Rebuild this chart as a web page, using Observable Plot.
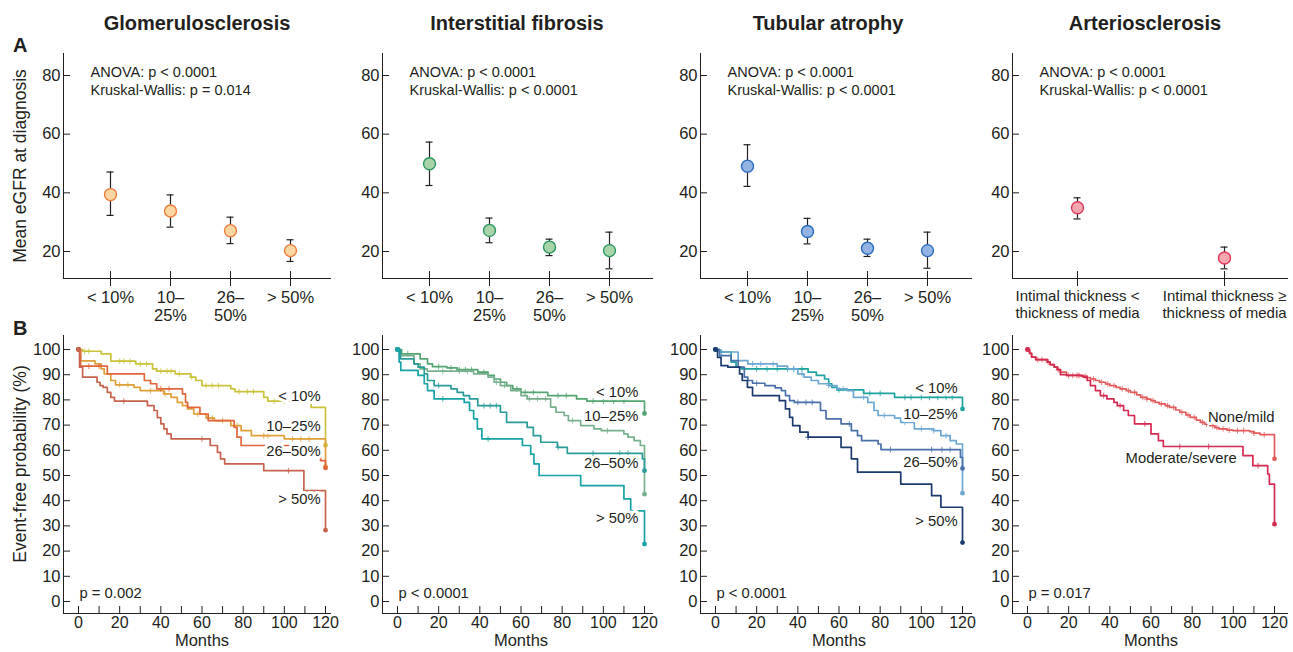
<!DOCTYPE html>
<html><head><meta charset="utf-8">
<script src="https://cdn.jsdelivr.net/npm/d3@7"></script>
<script src="https://cdn.jsdelivr.net/npm/@observablehq/plot@0.6"></script>
<style>
body{margin:0;background:#fff;font-family:"Liberation Sans",Arial,sans-serif;color:#231f20}
#root{position:relative;width:1293px;height:652px;overflow:hidden;background:#fff}
.abs{position:absolute;white-space:nowrap;z-index:5}
.title{font-weight:bold;font-size:20px;line-height:20px;transform:translateX(-50%)}
.letter{font-weight:bold;font-size:20px;line-height:20px}
.ytitle{font-size:17.5px;line-height:18px;transform:translate(-50%,-50%) rotate(-90deg)}
</style></head><body><div id="root"></div>
<script>
// ---------- data ----------
const panelTitles = ["Glomerulosclerosis", "Interstitial fibrosis", "Tubular atrophy", "Arteriosclerosis"];
const catsPct = ["< 10%", "10–25%", "26–50%", "> 50%"];
const tickLabelsPct = ["< 10%", "10–\n25%", "26–\n50%", "> 50%"];
const catsArt = ["lt", "ge"];
const tickLabelsArt = ["Intimal thickness <\nthickness of media", "Intimal thickness ≥\nthickness of media"];

const glomMean = [39.4, 33.8, 27.1, 20.3];
const glomLo   = [32.3, 28.3, 22.7, 16.6];
const glomHi   = [47.1, 39.3, 31.7, 24.0];
const fibMean  = [49.9, 27.2, 21.5, 20.3];
const fibLo    = [42.5, 23.0, 18.6, 14.1];
const fibHi    = [57.3, 31.4, 24.2, 26.6];
const atrMean  = [49.1, 26.8, 21.1, 20.3];
const atrLo    = [42.2, 22.6, 18.3, 14.3];
const atrHi    = [56.4, 31.3, 24.2, 26.6];
const artMean  = [34.9, 17.8];
const artLo    = [31.1, 14.1];
const artHi    = [38.3, 21.5];

const anovaText = [
  "ANOVA: p < 0.0001\nKruskal-Wallis: p = 0.014",
  "ANOVA: p < 0.0001\nKruskal-Wallis: p < 0.0001",
  "ANOVA: p < 0.0001\nKruskal-Wallis: p < 0.0001",
  "ANOVA: p < 0.0001\nKruskal-Wallis: p < 0.0001"
];
const eGFRTicks = [20, 40, 60, 80];
const kmYTicks = [0, 10, 20, 30, 40, 50, 60, 70, 80, 90, 100];
const kmXTicks = [0, 20, 40, 60, 80, 100, 120];
const kmXMinor = [0, 10, 20, 30, 40, 50, 60, 70, 80, 90, 100, 110, 120];

// Kaplan-Meier steps [month, event-free %]
const glom10 = [[0,100],[2,99.3],[11,98.3],[15.7,95.4],[27.8,94.3],[36,92.3],[38,91.4],[47,90.3],[54.5,89],[57,87.7],[60,85.7],[74,84.4],[76,83.3],[90,81],[92,79.5],[113,77],[120,62]];
const glom25 = [[0,100],[1,95.5],[8,94.3],[11,92.3],[12.5,90.3],[15.7,87.7],[18,86],[27,85],[30,83.7],[41.5,82.4],[45,81],[48,79],[50.5,77.7],[53,76.4],[56,74.4],[62,72.8],[66,71.8],[74,69.8],[79,67.8],[84,65.8],[100,64.5],[120,53.5]];
const glom50 = [[0,100],[1,93.4],[14,90.3],[32,87.7],[35,86.4],[38,84.4],[50.5,82.4],[52,79],[53,77],[59,74.4],[63,71.8],[75.6,69.1],[77,65.2],[79,61.9],[105,59.2],[117.6,55.9],[120,53]];
const glom50p = [[0,100],[0.5,93],[2,89],[9,87],[10.5,85.7],[12,85],[14,83],[15.7,81],[17.5,79.5],[33.5,77.7],[36.7,75.8],[38.3,73],[40,70.5],[41.5,68.5],[43,66.5],[45,64.5],[64,61.9],[67.5,59.2],[69,56.6],[71,54.6],[90,51.9],[109.5,44],[120,28.3]];
const glom10C = [3,5,20,22,25,30,33,40,43,45,49,55,62,65,68,78,82,85,95,100,105,110];
const glom25C = [20,24,35,42,58,65,70,77,90,92,104,108,112];
const glom50C = [5,10,40,44,98];
const glom50pC = [22,60,102];

const fib10 = [[0,100],[2,98.3],[11,96.3],[14.6,94.3],[17,93.2],[24,92.7],[29,92],[39,91],[44,89.7],[47,88.3],[50,87],[53,85.7],[56,84.4],[60,83],[73,81.7],[87,80.4],[92,79.5],[120,74.6]];
const fib25 = [[0,100],[1,97.6],[8,94.3],[11,92.3],[14.5,91.4],[37,90.3],[44,89],[47,87],[50,85.7],[55,83.7],[60,81.7],[63,80.4],[74.4,77.1],[77,75.1],[81,73.8],[83,71.8],[89,69.8],[95.5,68.5],[99,67.8],[110,66.5],[112,65.2],[115,63.8],[118,61.9],[120,42.6]];
const fib50 = [[0,100],[1.5,96.3],[8,94.3],[10,93],[13,90.3],[14.6,87.7],[17.8,85.7],[26,84.4],[29,83],[32,81.7],[35,80.4],[39,77.7],[50,75.1],[53,71.1],[63,69.1],[66,65.8],[69.6,63.2],[77.7,61.2],[82.5,58.8],[119,56.6],[120,51.9]];
const fib50p = [[0,100],[0.8,95],[1.6,91.7],[10,89.7],[13,86.4],[14.6,83.7],[17.8,80.4],[32.4,79],[35,75.8],[37,72.5],[38.8,68.5],[41,64.5],[60.7,61.9],[64.7,58.5],[66.3,54.6],[68.8,50],[89,46],[110,40.7],[113.3,36],[120,22.8]];
const fib10C = [5,20,26,30,33,36,42,58,62,66,78,82,95,100,105,110];
const fib25C = [22,30,34,48,52,64,68,72,85,102];
const fib50C = [20,42,45,48,78,95,108,112];
const fib50pC = [22,44];

const atr10 = [[0,100],[2,99],[7.6,95],[10,93],[12.5,92.3],[45,91],[49,89.7],[53,88.3],[55,86.4],[56.5,85],[59,84],[72,82.6],[87,81],[120,76.4]];
const atr25 = [[0,100],[2,99],[11,95.6],[15.7,94.3],[30,93.4],[35,92.3],[40,90.3],[43,89],[46.5,87.7],[50,86.4],[55,85.7],[59,84.4],[64,83.7],[67,81],[74,79],[77,75.8],[79,73.8],[87,72.8],[90,71.1],[96.6,68.5],[106,67.8],[109.5,65.8],[114,63.8],[117,62.5],[120,43]];
const atr50 = [[0,100],[2,97.6],[7.6,95.6],[11,93],[14,89],[15.7,87.7],[18,86.6],[24,85.7],[29,84.8],[32,83.7],[34,81.7],[36,79.7],[38.3,79],[51,75.8],[53.7,72.5],[61,70.5],[66,67.8],[69,65.8],[71,63.8],[79,62.5],[80.4,60.3],[119,57.2],[120,52.8]];
const atr50p = [[0,100],[1,96.9],[2.7,93.6],[6,93],[11.7,90.3],[13,87.7],[15.5,85],[18,81.7],[31,79.7],[34,76.4],[36,73.1],[37.5,69.8],[41,67.2],[45,65.2],[61,61.2],[66,56.6],[69,51.3],[90,46.6],[105,42],[109.5,37.4],[120,23.4]];
const atr10C = [3,20,25,30,35,38,42,60,75,80,92,95,100,104,108,112,115];
const atr25C = [18,22,28,38,42,55,62,72,82,92,100,106,112];
const atr50C = [20,40,44,47,65,85,105,110,114];
const atr50pC = [45];

const artMild = [[0,100],[1,98.5],[2,97],[4,96],[9.7,95],[11,94],[13,93],[14.5,92],[16,91],[19,89.7],[26,89.4],[29,88.8],[30.6,88.3],[33,87.7],[35,87],[38,86.3],[40,85.7],[43,85],[45,84.4],[48,83.7],[50,83],[53,82],[55,81],[58,80.3],[60,79.7],[62,79],[64,78.4],[67,77.7],[69,77],[72,76],[74,75.1],[77,74],[79,73.1],[82,72],[84,71.1],[86,70.4],[88.6,69.8],[91,69],[93,68.5],[97,68],[100,67.8],[108,67.4],[110,66.8],[113,66.2],[120,56.6]];
const artSevere = [[0,100],[1,98.5],[2,97],[4,96],[9.7,95],[11,94],[13,93],[14.5,92],[16,90],[19,89.7],[27,89],[29,87.7],[30.6,85.7],[33,83.7],[35.4,81.7],[38.6,80.4],[42,79],[43.6,77.7],[46.7,75.8],[49,73.8],[52,70.5],[60,66.5],[63.6,63.8],[66,61.5],[104.7,57.9],[109.5,53.9],[116.7,50.6],[117.5,46.6],[120,30.7]];
const artMildC = [5,7,10,15,20,22,24,28,32,36,39,42,46,49,52,56,58,61,65,68,71,75,78,81,85,87,90,92,95,98,102,105,110,115];
const artSevereC = [25,37,45,57,74,88,112];

const pValues = ["p = 0.002", "p < 0.0001", "p < 0.0001", "p = 0.017"];
const glomLabels = [{t:117.6, v:81.3, s:"< 10%"},{t:117.6, v:69.4, s:"10–25%"},{t:117.6, v:59.6, s:"26–50%"},{t:117.6, v:40.5, s:"> 50%"}];
const fibLabels  = [{t:117, v:83, s:"< 10%"},{t:117, v:73.4, s:"10–25%"},{t:117, v:54.8, s:"26–50%"},{t:117, v:33, s:"> 50%"}];
const atrLabels  = [{t:117.6, v:84.5, s:"< 10%"},{t:117.6, v:74.2, s:"10–25%"},{t:117.6, v:55.2, s:"26–50%"},{t:117.6, v:32, s:"> 50%"}];
const artLabels  = [{t:120, v:73, s:"None/mild"},{t:101.6, v:57, s:"Moderate/severe"}];

// ---------- layout ----------
const INK = "#231f20";
const FONT = "'Liberation Sans', Arial, sans-serif";
const axisXPos = [63, 382, 700, 1012];
const rightXPos = [330, 652, 971, 1287];
const root = document.getElementById("root");

function place(svg, left, top) {
  svg.style.position = "absolute";
  svg.style.left = left + "px";
  svg.style.top = top + "px";
  root.appendChild(svg);
}
function html(cls, text, left, top) {
  const d = document.createElement("div");
  d.className = "abs " + cls;
  d.textContent = text;
  d.style.left = left + "px";
  d.style.top = top + "px";
  root.appendChild(d);
}
const baseStyle = {background: "transparent", fontFamily: FONT, fontSize: "16px", color: INK, overflow: "visible"};

// tick marks only (no text) and tick text only (no marks)
const tickOnlyY = (ticks) => Plot.axisY({ticks, tickSize: -7, fill: "none", stroke: INK, label: null});
const textOnlyY = (ticks) => Plot.axisY({ticks, tickSize: 0, tickPadding: 3, fill: INK, label: null, fontSize: 16.5});

function topPanel(col, cats, labels, mean, lo, hi, fill, stroke, xRange, labelSize) {
  const data = cats.map((c, i) => ({c, m: mean[i], lo: lo[i], hi: hi[i]}));
  const left = axisXPos[col] - 55;
  const width = rightXPos[col] - left + 4;
  const svg = Plot.plot({
    width, height: 290, marginLeft: 55, marginRight: 4, marginTop: 13, marginBottom: 52,
    style: baseStyle,
    x: {type: "point", domain: cats, range: xRange, padding: 0, axis: null},
    y: {domain: [20, 80], range: [211, 35], axis: null},
    marks: [
      Plot.frame({anchor: "left", stroke: INK}),
      Plot.frame({anchor: "bottom", stroke: INK}),
      tickOnlyY(eGFRTicks),
      textOnlyY(eGFRTicks),
      Plot.axisX({tickSize: -7, fill: "none", stroke: INK, label: null}),
      Plot.axisX({tickSize: 8, tickPadding: 3, label: null, fontSize: labelSize, lineHeight: 1.12, fill: INK, stroke: INK,
        tickFormat: d => labels[cats.indexOf(d)]}),
      Plot.ruleX(data, {x: "c", y1: "lo", y2: "hi", stroke: INK, strokeWidth: 1.2}),
      Plot.ruleY(data, {y: "lo", x1: "c", x2: "c", insetLeft: -3.5, insetRight: -3.5, stroke: INK, strokeWidth: 1.2}),
      Plot.ruleY(data, {y: "hi", x1: "c", x2: "c", insetLeft: -3.5, insetRight: -3.5, stroke: INK, strokeWidth: 1.2}),
      Plot.dot(data, {x: "c", y: "m", r: 6, fill, stroke, strokeWidth: 1.4}),
      Plot.text([anovaText[col]], {frameAnchor: "top-left", dx: 27, dy: 11, lineAnchor: "top", textAnchor: "start", fontSize: 14.5, lineHeight: 1.24, fill: INK})
    ]
  });
  place(svg, left, 40);
}

function kmAt(steps, t) {
  let v = steps[0][1];
  for (const [s, val] of steps) { if (s <= t) v = val; }
  return v;
}

function kmPanel(col, curves, labels) {
  const left = axisXPos[col] - 55;
  const width = rightXPos[col] - left + 4;
  const marks = [
    Plot.frame({anchor: "left", stroke: INK}),
    Plot.frame({anchor: "bottom", stroke: INK}),
    tickOnlyY(kmYTicks),
    textOnlyY(kmYTicks),
    Plot.axisX({ticks: kmXMinor, tickSize: -7, fill: "none", stroke: INK, label: null}),
    Plot.axisX({ticks: kmXTicks, tickSize: 0, tickPadding: 3, fill: INK, label: null, fontSize: 16})
  ];
  for (const c of curves) {
    const pts = c.steps.map(([t, v]) => ({t, v}));
    marks.push(Plot.line(pts, {x: "t", y: "v", curve: "step-after", stroke: c.color, strokeWidth: 1.7}));
    const cs = c.censor.map(t => ({t, v: kmAt(c.steps, t)}));
    marks.push(Plot.dot(cs, {x: "t", y: "v", symbol: "plus", r: 2, stroke: c.color, strokeWidth: 1, strokeOpacity: 0.8}));
    marks.push(Plot.dot([pts[0], pts[pts.length - 1]], {x: "t", y: "v", r: 2.4, fill: c.color}));
  }
  marks.push(Plot.text(labels, {x: "t", y: "v", text: "s", textAnchor: "end", fontSize: 14.8, fill: INK, stroke: "white", strokeWidth: 6}));
  marks.push(Plot.text([{t: 0, v: 3.4, s: pValues[col]}], {x: "t", y: "v", text: "s", textAnchor: "start", dx: 1, fontSize: 14.8, fill: INK}));
  marks.push(Plot.text([{t: 60, s: "Months"}], {x: "t", text: "s", frameAnchor: "bottom", dy: 32, fontSize: 16.5, fill: INK}));
  const svg = Plot.plot({
    width, height: 322, marginLeft: 55, marginRight: 4, marginTop: 5, marginBottom: 39,
    style: baseStyle,
    x: {domain: [0, 120], range: [70, 317], axis: null},
    y: {domain: [0, 100], range: [271, 19], axis: null},
    marks
  });
  place(svg, left, 330);
}

// top row
topPanel(0, catsPct, tickLabelsPct, glomMean, glomLo, glomHi, "#fdd6a2", "#f07c3c", [101, 282], 16.5);
topPanel(1, catsPct, tickLabelsPct, fibMean, fibLo, fibHi, "#a9d4a9", "#2a9660", [101, 282], 16.5);
topPanel(2, catsPct, tickLabelsPct, atrMean, atrLo, atrHi, "#93b4e2", "#2c6cc0", [101, 282], 16.5);
topPanel(3, catsArt, tickLabelsArt, artMean, artLo, artHi, "#f6a6ae", "#e0385a", [120, 267], 15);

// bottom row
kmPanel(0, [
  {steps: glom10, censor: glom10C, color: "#cbc23c"},
  {steps: glom25, censor: glom25C, color: "#dfa03a"},
  {steps: glom50, censor: glom50C, color: "#e2663c"},
  {steps: glom50p, censor: glom50pC, color: "#c7634e"}
], glomLabels);
kmPanel(1, [
  {steps: fib10, censor: fib10C, color: "#55a572"},
  {steps: fib25, censor: fib25C, color: "#78b08e"},
  {steps: fib50, censor: fib50C, color: "#2a9b98"},
  {steps: fib50p, censor: fib50pC, color: "#17a2a6"}
], fibLabels);
kmPanel(2, [
  {steps: atr10, censor: atr10C, color: "#1ea3a0"},
  {steps: atr25, censor: atr25C, color: "#6ea8d2"},
  {steps: atr50, censor: atr50C, color: "#4a70aa"},
  {steps: atr50p, censor: atr50pC, color: "#1b3a6e"}
], atrLabels);
kmPanel(3, [
  {steps: artMild, censor: artMildC, color: "#e35c5c"},
  {steps: artSevere, censor: artSevereC, color: "#d42a52"}
], artLabels);

// titles and labels
const titleCenters = [197, 517, 828, 1145];
panelTitles.forEach((t, i) => html("title", t, titleCenters[i], 13));
html("letter", "A", 13, 35);
html("letter", "B", 13, 318);
html("ytitle", "Mean eGFR at diagnosis", 20, 166);
html("ytitle", "Event-free probability (%)", 20, 464);
</script></body></html>
